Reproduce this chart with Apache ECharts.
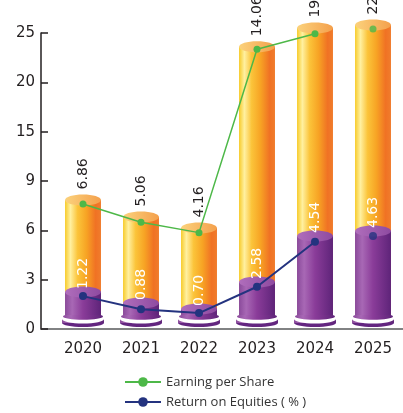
<!DOCTYPE html>
<html>
<head>
<meta charset="utf-8">
<style>html,body{margin:0;padding:0;background:#fff}#main{width:403px;height:413px}</style>
<script src="https://cdn.jsdelivr.net/npm/echarts@6/dist/echarts.min.js"></script>
</head>
<body>
<div id="main"></div>
<script>
var years = ['2020', '2021', '2022', '2023', '2024', '2025'];
var yTicks = [0, 3, 6, 9, 15, 20, 25];
// printed labels
var epsLabels = ['6.86', '5.06', '4.16', '14.06', '19.', '22'];
var roeLabels = ['1.22', '0.88', '0.70', '2.58', '4.54', '4.63'];
// heights as drawn in the picture (values on the y axis scale)
var epsBar = [7.85, 6.81, 6.14, 23.6, 25.5, 25.8];
var roeBar = [2.25, 1.58, 1.22, 2.86, 5.66, 5.96];
var epsLine = [7.6, 6.49, 5.86, 23.35, 24.93, 25.4];
var roeLine = [2.0, 1.2, 0.97, 2.57, 5.31, 5.66];

// y axis is not linear: each tick step has the same height
function toAxis(v) {
    for (var i = 0; i < yTicks.length - 2; i++) {
        if (v <= yTicks[i + 1]) return i + (v - yTicks[i]) / (yTicks[i + 1] - yTicks[i]);
    }
    var n = yTicks.length - 1;
    return n - 1 + (v - yTicks[n - 1]) / (yTicks[n] - yTicks[n - 1]);
}

var G = echarts.graphic;
function orangeFill() {
    return new G.LinearGradient(0, 0, 1, 0, [
        {offset: 0, color: '#F7CB2A'},
        {offset: 0.15, color: '#FFF0A0'},
        {offset: 0.35, color: '#FBC43A'},
        {offset: 0.6, color: '#F7A324'},
        {offset: 0.85, color: '#F07224'},
        {offset: 1, color: '#F07C2C'}
    ]);
}
function purpleFill() {
    return new G.LinearGradient(0, 0, 1, 0, [
        {offset: 0, color: '#8A4A9B'},
        {offset: 0.2, color: '#A868B5'},
        {offset: 0.5, color: '#8A3C99'},
        {offset: 1, color: '#5E2479'}
    ]);
}

function renderItem(params, api) {
    var i = api.value(0);
    var base = api.coord([i, 0]);
    var top = api.coord([i, api.value(1)]);
    var mid = api.coord([i, api.value(2)]);
    var cx = base[0], y0 = base[1];
    var w = api.size([1, 0])[0] * 0.62;
    var rx = w / 2, ry = 5.5;
    var txt = {fontSize: 14, fontFamily: 'DejaVu Sans', align: 'left', textAlign: 'left',
        verticalAlign: 'middle', textVerticalAlign: 'middle'};
    return {
        type: 'group',
        children: [
            {type: 'rect', shape: {x: cx - rx, y: top[1], width: w, height: y0 - 12 - top[1]}, style: {fill: orangeFill()}},
            {type: 'ellipse', shape: {cx: cx, cy: top[1], rx: rx, ry: ry}, style: {fill: new G.LinearGradient(0, 0, 1, 0, [
                {offset: 0, color: '#FBD27C'}, {offset: 1, color: '#F4A04C'}])}},
            // pedestal
            {type: 'ellipse', shape: {cx: cx, cy: y0 - 6, rx: rx + 3, ry: 4}, style: {fill: '#632680'}},
            {type: 'rect', shape: {x: cx - rx - 3, y: y0 - 10, width: w + 6, height: 4}, style: {fill: purpleFill()}},
            {type: 'ellipse', shape: {cx: cx, cy: y0 - 10, rx: rx + 3, ry: 4.5}, style: {fill: '#ffffff'}},
            {type: 'ellipse', shape: {cx: cx, cy: y0 - 12.5, rx: rx + 2, ry: 3.2}, style: {fill: purpleFill()}},
            {type: 'rect', shape: {x: cx - rx, y: mid[1], width: w, height: y0 - 14 - mid[1]}, style: {fill: purpleFill()}},
            {type: 'ellipse', shape: {cx: cx, cy: mid[1], rx: rx, ry: ry}, style: {fill: new G.LinearGradient(0, 0, 1, 0, [
                {offset: 0, color: '#B06EBC'}, {offset: 1, color: '#8E4AA0'}])}},
            {type: 'text', x: cx, y: top[1] - ry - 5, rotation: Math.PI / 2,
                style: Object.assign({text: epsLabels[i], fill: '#231F20'}, txt)},
            {type: 'text', x: cx, y: mid[1] - 3, rotation: Math.PI / 2,
                style: Object.assign({text: roeLabels[i], fill: '#ffffff'}, txt)}
        ]
    };
}

var myChart = echarts.init(document.getElementById('main'));

var lastOnly = function (arr) {
    return arr.map(function (v, i) { return i === arr.length - 1 ? toAxis(v) : '-'; });
};
var allButLast = function (arr) {
    return arr.map(function (v, i) { return i === arr.length - 1 ? '-' : toAxis(v); });
};

var option = {
    animation: false,
    grid: [
        {left: 41, right: 0, top: 33, bottom: 84},
        {left: 54, right: 1, top: 33, bottom: 84}
    ],
    legend: {
        data: ['Earning per Share', 'Return on Equities ( % )'],
        orient: 'vertical',
        left: 124,
        top: 375,
        padding: 0,
        itemWidth: 36,
        itemHeight: 12,
        itemGap: 6,
        textStyle: {fontSize: 13, lineHeight: 14, fontFamily: 'Open Sans', color: '#333'}
    },
    xAxis: [
        {gridIndex: 0, type: 'value', min: 0, max: 1, axisLabel: {show: false}, axisTick: {show: false},
            splitLine: {show: false}, axisLine: {lineStyle: {color: '#58595B', width: 1.5}}},
        {gridIndex: 1, type: 'category', data: years, axisLine: {show: false}, axisTick: {show: false},
            axisLabel: {margin: 13, fontSize: 15, fontFamily: 'DejaVu Sans', color: '#231F20'}}
    ],
    yAxis: [
        {gridIndex: 0, type: 'value', min: 0, max: 6, interval: 1, splitLine: {show: false},
            axisLine: {show: true, lineStyle: {color: '#231F20', width: 1.5}},
            axisTick: {show: true, inside: true, length: 7, lineStyle: {color: '#231F20', width: 1.5}},
            axisLabel: {margin: 6, fontSize: 15, fontFamily: 'DejaVu Sans', color: '#231F20',
                formatter: function (v) { return yTicks[v]; }}},
        {gridIndex: 1, type: 'value', min: 0, max: 6, interval: 1, show: false}
    ],
    series: [
        {
            type: 'custom',
            xAxisIndex: 1,
            yAxisIndex: 1,
            renderItem: renderItem,
            clip: false,
            z: 2,
            data: years.map(function (y, i) { return [i, toAxis(epsBar[i]), toAxis(roeBar[i])]; })
        },
        {
            name: 'Earning per Share',
            type: 'line',
            xAxisIndex: 1,
            yAxisIndex: 1,
            clip: false,
            z: 5,
            symbol: 'circle',
            symbolSize: 7,
            lineStyle: {color: '#4DB848', width: 1.5},
            itemStyle: {color: '#4DB848'},
            data: allButLast(epsLine)
        },
        {
            name: 'Return on Equities ( % )',
            type: 'line',
            xAxisIndex: 1,
            yAxisIndex: 1,
            clip: false,
            z: 5,
            symbol: 'circle',
            symbolSize: 8,
            lineStyle: {color: '#24337F', width: 2},
            itemStyle: {color: '#24337F'},
            data: allButLast(roeLine)
        },
        {
            name: 'eps-last',
            type: 'scatter',
            xAxisIndex: 1,
            yAxisIndex: 1,
            clip: false,
            z: 5,
            symbolSize: 7,
            itemStyle: {color: '#4DB848'},
            data: lastOnly(epsLine)
        },
        {
            name: 'roe-last',
            type: 'scatter',
            xAxisIndex: 1,
            yAxisIndex: 1,
            clip: false,
            z: 5,
            symbolSize: 8,
            itemStyle: {color: '#24337F'},
            data: lastOnly(roeLine)
        }
    ]
};

myChart.setOption(option);
</script>
</body>
</html>
